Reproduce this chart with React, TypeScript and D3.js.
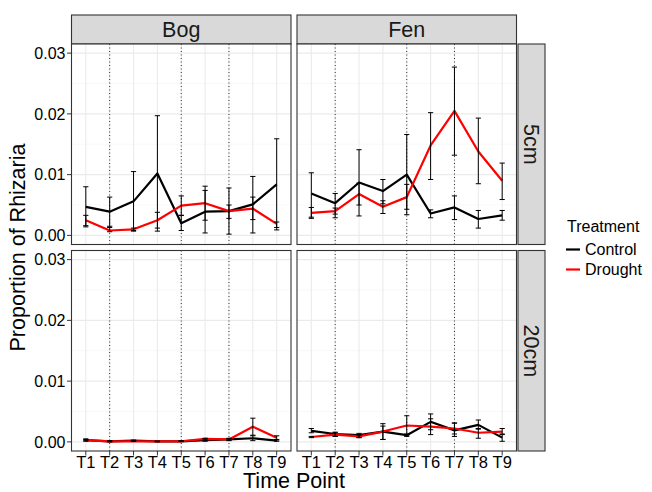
import * as d3 from "d3";

// ---- data ----
const timePoints = ["T1", "T2", "T3", "T4", "T5", "T6", "T7", "T8", "T9"];
const sites = ["Bog", "Fen"];
const depths = ["5cm", "20cm"];
const markedPoints = ["T2", "T5", "T7"];
const yTicks = [0, 0.01, 0.02, 0.03];
const yMinor = [0.005, 0.015, 0.025];

// [mean, lower, upper]
const bog5Control = [[0.0047, 0.0014, 0.008], [0.0039, 0.0015, 0.0063], [0.0056, 0.0007, 0.0105], [0.0102, 0.0007, 0.0197], [0.002, 0.0008, 0.0033], [0.0039, 0.0004, 0.0074], [0.004, 0.0002, 0.0078], [0.0051, 0.0004, 0.0097], [0.0084, 0.0009, 0.0159]];
const bog5Drought = [[0.0025, 0.0016, 0.0033], [0.0008, 0.0006, 0.0013], [0.001, 0.0008, 0.0012], [0.0025, 0.0012, 0.0038], [0.0049, 0.0033, 0.0065], [0.0053, 0.0025, 0.0081], [0.004, 0.0028, 0.005], [0.0044, 0.0026, 0.0063], [0.0019, 0.0013, 0.0022]];
const fen5Control = [[0.0069, 0.003, 0.0103], [0.0053, 0.0029, 0.0069], [0.0087, 0.0032, 0.0141], [0.0073, 0.0052, 0.0092], [0.01, 0.0034, 0.0166], [0.0036, 0.0029, 0.0042], [0.0046, 0.0026, 0.0065], [0.0027, 0.0012, 0.0041], [0.0033, 0.0025, 0.0041]];
const fen5Drought = [[0.0037, 0.0028, 0.0046], [0.004, 0.0035, 0.0045], [0.0068, 0.005, 0.0086], [0.0047, 0.0036, 0.0057], [0.0063, 0.0043, 0.0084], [0.0148, 0.0092, 0.0202], [0.0205, 0.0132, 0.0277], [0.0138, 0.0085, 0.0193], [0.009, 0.0059, 0.0119]];
const bog20Control = [[0.0003, 0.0001, 0.0005], [0.0001, 0.0, 0.0002], [0.0002, 0.0001, 0.0003], [0.0001, 0.0, 0.0001], [0.0001, 0.0001, 0.0002], [0.0003, 0.0001, 0.0005], [0.0004, 0.0002, 0.0006], [0.0006, 0.0002, 0.001], [0.0002, 0.0001, 0.0003]];
const bog20Drought = [[0.0003, 0.0002, 0.0004], [0.0001, 0.0001, 0.0001], [0.0001, 0.0001, 0.0002], [0.0001, 0.0001, 0.0001], [0.0001, 0.0001, 0.0001], [0.0005, 0.0003, 0.0006], [0.0004, 0.0003, 0.0005], [0.0025, 0.0011, 0.0039], [0.0007, 0.0004, 0.001]];
const fen20Control = [[0.0018, 0.0015, 0.0022], [0.0013, 0.0009, 0.0016], [0.0011, 0.0007, 0.0014], [0.0017, 0.0004, 0.003], [0.0011, 0.0009, 0.0013], [0.0033, 0.002, 0.0046], [0.0019, 0.0009, 0.0031], [0.0028, 0.0021, 0.0036], [0.0007, 0.0001, 0.0013]];
const fen20Drought = [[0.0008, 0.0007, 0.0009], [0.0012, 0.0009, 0.0015], [0.0009, 0.0007, 0.0011], [0.0017, 0.0004, 0.0026], [0.0027, 0.0011, 0.0043], [0.0025, 0.0012, 0.0038], [0.0022, 0.0013, 0.0031], [0.0015, 0.0006, 0.0022], [0.0017, 0.0012, 0.0022]];

const treatments = ["Control", "Drought"];
const colors = { Control: "#000000", Drought: "#ff0000" };

const facetData = {
  "Bog-5cm": { Control: bog5Control, Drought: bog5Drought },
  "Fen-5cm": { Control: fen5Control, Drought: fen5Drought },
  "Bog-20cm": { Control: bog20Control, Drought: bog20Drought },
  "Fen-20cm": { Control: fen20Control, Drought: fen20Drought },
};

// ---- layout ----
const W = 652, H = 492;
const panelLeft = [71.5, 297];
const panelW = 219.5;
const rowTop = [44, 250.5];
const panelH = 200.5;
const stripTop = 15;
const stripH = 29;
const rStripX = 518;
const rStripW = 27;
const font = "'Liberation Sans', Arial, Helvetica, sans-serif";
const border = "#333333";
const grid = "#ebebeb";

function Panel({ site, depth, col, row }) {
  const x0 = panelLeft[col];
  const y0 = rowTop[row];
  const x = d3.scalePoint().domain(timePoints).range([x0, x0 + panelW]).padding(0.6);
  const y = d3.scaleLinear().domain([-0.0015, 0.0315]).range([y0 + panelH, y0]);
  const series = facetData[`${site}-${depth}`];
  const line = d3.line<number[]>()
    .x((d, i) => x(timePoints[i])!)
    .y(d => y(d[0]));
  const cap = 2.6;

  return (
    <g>
      <rect x={x0} y={y0} width={panelW} height={panelH} fill="#fff" />
      {yMinor.map(v => (
        <line key={"mn" + v} x1={x0} x2={x0 + panelW} y1={y(v)} y2={y(v)} stroke="#f4f4f4" strokeWidth={0.6} />
      ))}
      {yTicks.map(v => (
        <line key={"mj" + v} x1={x0} x2={x0 + panelW} y1={y(v)} y2={y(v)} stroke={grid} strokeWidth={1.1} />
      ))}
      {timePoints.map(t => (
        <line key={"vx" + t} x1={x(t)} x2={x(t)} y1={y0} y2={y0 + panelH} stroke={grid} strokeWidth={1.1} />
      ))}
      {markedPoints.map(t => (
        <line key={"dt" + t} x1={x(t)} x2={x(t)} y1={y0} y2={y0 + panelH} stroke="#000" strokeWidth={0.8} strokeDasharray="1,2.5" />
      ))}
      {treatments.map(tr => (
        <path key={"ln" + tr} d={line(series[tr]) || ""} fill="none" stroke={colors[tr]} strokeWidth={2.2} strokeLinejoin="round" />
      ))}
      {treatments.map(tr => (
        <g key={"eb" + tr} stroke="#000" strokeWidth={1}>
          {series[tr].map((d, i) => {
            const cx = x(timePoints[i])!;
            return (
              <g key={i}>
                <line x1={cx} x2={cx} y1={y(d[1])} y2={y(d[2])} />
                <line x1={cx - cap} x2={cx + cap} y1={y(d[1])} y2={y(d[1])} />
                <line x1={cx - cap} x2={cx + cap} y1={y(d[2])} y2={y(d[2])} />
              </g>
            );
          })}
        </g>
      ))}
      <rect x={x0} y={y0} width={panelW} height={panelH} fill="none" stroke={border} strokeWidth={1.1} />
      {col === 0 && yTicks.map(v => (
        <g key={"yt" + v}>
          <line x1={x0 - 4.5} x2={x0} y1={y(v)} y2={y(v)} stroke={border} strokeWidth={1} />
          <text x={x0 - 6} y={y(v)} dy="0.36em" textAnchor="end" fontSize={16} fill="#000">{d3.format(".2f")(v)}</text>
        </g>
      ))}
      {row === 1 && timePoints.map(t => (
        <g key={"xt" + t}>
          <line x1={x(t)} x2={x(t)} y1={y0 + panelH} y2={y0 + panelH + 4.5} stroke={border} strokeWidth={1} />
          <text x={x(t)} y={y0 + panelH + 17} textAnchor="middle" fontSize={16.5} fill="#000">{t}</text>
        </g>
      ))}
    </g>
  );
}

export default function App() {
  return (
    <svg width={W} height={H} style={{ display: "block", position: "absolute", left: 0, top: 0 }} fontFamily={font}>
      <rect width={W} height={H} fill="#fff" />
      {sites.map((s, c) => (
        <g key={s}>
          <rect x={panelLeft[c]} y={stripTop} width={panelW} height={stripH} fill="#d9d9d9" stroke={border} strokeWidth={1.1} />
          <text x={panelLeft[c] + panelW / 2} y={stripTop + stripH / 2} dy="0.36em" textAnchor="middle" fontSize={21.5} fill="#1a1a1a">{s}</text>
        </g>
      ))}
      {depths.map((dp, r) => (
        <g key={dp}>
          <rect x={rStripX} y={rowTop[r]} width={rStripW} height={panelH} fill="#d9d9d9" stroke={border} strokeWidth={1.1} />
          <text transform={`translate(${rStripX + rStripW / 2},${rowTop[r] + panelH / 2}) rotate(90)`} dy="0.36em" textAnchor="middle" fontSize={21.5} fill="#1a1a1a">{dp}</text>
        </g>
      ))}
      {depths.map((dp, r) => sites.map((s, c) => (
        <Panel key={s + dp} site={s} depth={dp} col={c} row={r} />
      )))}
      <text x={(panelLeft[0] + panelLeft[1] + panelW) / 2} y={487.5} textAnchor="middle" fontSize={21.5} fill="#000">Time Point</text>
      <text transform={`translate(25,${(rowTop[0] + rowTop[1] + panelH) / 2}) rotate(-90)`} textAnchor="middle" fontSize={21.5} fill="#000">Proportion of Rhizaria</text>
      <g>
        <text x={567} y={231.5} fontSize={16} fill="#000">Treatment</text>
        {treatments.map((tr, i) => (
          <g key={tr}>
            <line x1={566} x2={580} y1={249.5 + i * 20} y2={249.5 + i * 20} stroke={colors[tr]} strokeWidth={2.2} />
            <text x={585} y={254.5 + i * 20} fontSize={16} fill="#000">{tr}</text>
          </g>
        ))}
      </g>
    </svg>
  );
}
